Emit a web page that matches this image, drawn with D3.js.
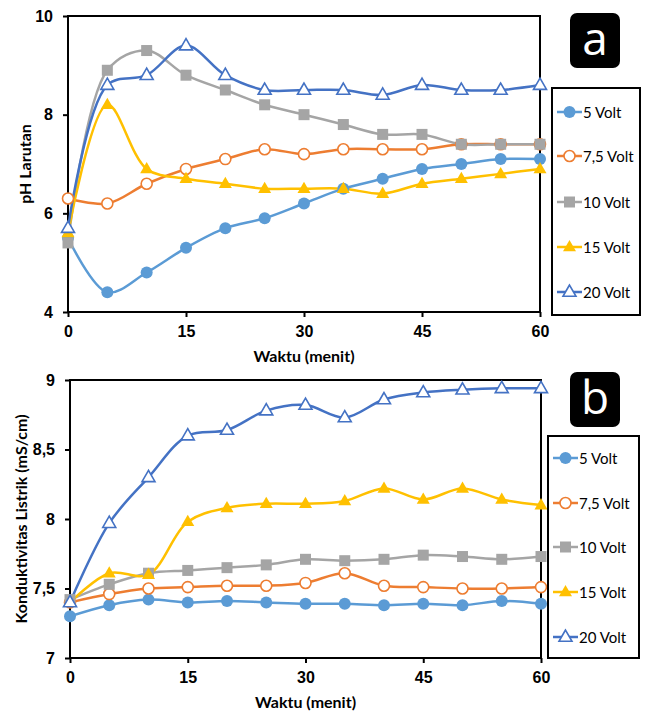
<!DOCTYPE html>
<html>
<head>
<meta charset="utf-8">
<script src="https://cdn.jsdelivr.net/npm/d3@7"></script>
<style>
  body { margin: 0; background: #fff; }
  svg { font-family: Lato, "Open Sans", sans-serif; }
</style>
</head>
<body>
<div id="container"></div>
<script>
const waktu = [0, 5, 10, 15, 20, 25, 30, 35, 40, 45, 50, 55, 60];
const seriesNames = ["5 Volt", "7,5 Volt", "10 Volt", "15 Volt", "20 Volt"];

// pH larutan (a)
const ph5 = [5.5, 4.4, 4.8, 5.3, 5.7, 5.9, 6.2, 6.5, 6.7, 6.9, 7.0, 7.1, 7.1];
const ph75 = [6.3, 6.2, 6.6, 6.9, 7.1, 7.3, 7.2, 7.3, 7.3, 7.3, 7.4, 7.4, 7.4];
const ph10 = [5.4, 8.9, 9.3, 8.8, 8.5, 8.2, 8.0, 7.8, 7.6, 7.6, 7.4, 7.4, 7.4];
const ph15 = [5.6, 8.2, 6.9, 6.7, 6.6, 6.5, 6.5, 6.5, 6.4, 6.6, 6.7, 6.8, 6.9];
const ph20 = [5.7, 8.6, 8.8, 9.4, 8.8, 8.5, 8.5, 8.5, 8.4, 8.6, 8.5, 8.5, 8.6];

// konduktivitas listrik (b)
const ec5 = [7.3, 7.38, 7.42, 7.4, 7.41, 7.4, 7.39, 7.39, 7.38, 7.39, 7.38, 7.41, 7.39];
const ec75 = [7.4, 7.46, 7.5, 7.51, 7.52, 7.52, 7.54, 7.61, 7.52, 7.51, 7.5, 7.5, 7.51];
const ec10 = [7.42, 7.53, 7.61, 7.63, 7.65, 7.67, 7.71, 7.7, 7.71, 7.74, 7.73, 7.71, 7.73];
const ec15 = [7.4, 7.61, 7.6, 7.98, 8.08, 8.11, 8.11, 8.13, 8.22, 8.14, 8.22, 8.14, 8.1];
const ec20 = [7.4, 7.97, 8.3, 8.6, 8.64, 8.78, 8.82, 8.73, 8.86, 8.91, 8.93, 8.94, 8.94];

const xTicks = [0, 15, 30, 45, 60];
const phTicks = [4, 6, 8, 10];
const ecTicks = [7, 7.5, 8, 8.5, 9];

const colors = ["#5B9BD5", "#ED7D31", "#A5A5A5", "#FFC000", "#4472C4"];
const markers = ["circle", "ocircle", "square", "triangle", "otriangle"];

const W = 649, H = 713;
const svg = d3.select("#container").append("svg")
    .attr("width", W).attr("height", H);

const comma = d => String(d).replace(".", ",");

function drawMarker(g, type, color, cx, cy) {
    if (type == "circle") {
        g.append("circle").attr("cx", cx).attr("cy", cy).attr("r", 6).attr("fill", color);
    } else if (type == "ocircle") {
        g.append("circle").attr("cx", cx).attr("cy", cy).attr("r", 5.5)
            .attr("fill", "#fff").attr("stroke", color).attr("stroke-width", 1.6);
    } else if (type == "square") {
        g.append("rect").attr("x", cx - 5.5).attr("y", cy - 5.5)
            .attr("width", 11).attr("height", 11).attr("fill", color);
    } else {
        const s = 13, h = s * 0.866;
        const pts = [[cx, cy - h * 0.62], [cx - s / 2, cy + h * 0.38], [cx + s / 2, cy + h * 0.38]];
        const tri = g.append("polygon").attr("points", pts.map(p => p.join(",")).join(" "));
        if (type == "triangle") tri.attr("fill", color);
        else tri.attr("fill", "#fff").attr("stroke", color).attr("stroke-width", 1.6);
    }
}

function makePanel(opt) {
    const x = d3.scaleLinear().domain([0, 60]).range([opt.left, opt.right]);
    const y = d3.scaleLinear().domain(opt.domain).range([opt.bottom, opt.top]);
    const g = svg.append("g");

    g.append("g")
        .attr("transform", "translate(0," + opt.bottom + ")")
        .call(d3.axisBottom(x).tickValues(xTicks).tickSize(5).tickPadding(9))
        .call(a => a.select(".domain").remove())
        .call(a => a.selectAll("line").attr("stroke", "#000").attr("stroke-width", 2))
        .call(a => a.selectAll("text").attr("font-size", 16).attr("font-weight", "bold").attr("fill", "#000"));

    g.append("g")
        .attr("transform", "translate(" + opt.left + ",0)")
        .call(d3.axisLeft(y).tickValues(opt.ticks).tickFormat(comma).tickSize(5).tickPadding(10))
        .call(a => a.select(".domain").remove())
        .call(a => a.selectAll("line").attr("stroke", "#000").attr("stroke-width", 2))
        .call(a => a.selectAll("text").attr("font-size", 16).attr("font-weight", "bold").attr("fill", "#000"));

    g.append("rect")
        .attr("x", opt.left).attr("y", opt.top)
        .attr("width", opt.right - opt.left).attr("height", opt.bottom - opt.top)
        .attr("fill", "none").attr("stroke", "#000").attr("stroke-width", 2);

    const line = d3.line()
        .x((d, i) => x(waktu[i]))
        .y(d => y(d))
        .curve(d3.curveCatmullRom.alpha(0.5));

    opt.series.forEach((s, k) => {
        g.append("path").attr("d", line(s))
            .attr("fill", "none").attr("stroke", colors[k]).attr("stroke-width", 2.5);
    });
    opt.series.forEach((s, k) => {
        const mg = g.append("g");
        s.forEach((v, i) => drawMarker(mg, markers[k], colors[k], x(waktu[i]), y(v)));
    });

    g.append("text")
        .attr("x", (opt.left + opt.right) / 2).attr("y", opt.bottom + 50)
        .attr("text-anchor", "middle").attr("font-size", 16).attr("font-weight", "bold")
        .text("Waktu (menit)");

    const ym = (opt.top + opt.bottom) / 2;
    g.append("text")
        .attr("transform", "translate(" + opt.titleX + "," + ym + ") rotate(-90)")
        .attr("text-anchor", "middle").attr("font-size", 16).attr("font-weight", "bold")
        .text(opt.yTitle);

    // legend
    const lg = g.append("g");
    lg.append("rect")
        .attr("x", opt.legend[0]).attr("y", opt.legend[1])
        .attr("width", opt.legend[2]).attr("height", opt.legend[3])
        .attr("fill", "#fff").attr("stroke", "#000").attr("stroke-width", 2);
    seriesNames.forEach((n, k) => {
        const ly = opt.legendRows[k];
        const lx = opt.legend[0] + 5;
        lg.append("line").attr("x1", lx).attr("x2", lx + 25).attr("y1", ly).attr("y2", ly)
            .attr("stroke", colors[k]).attr("stroke-width", 2.5);
        drawMarker(lg, markers[k], colors[k], lx + 12.5, ly);
        lg.append("text").attr("x", lx + 26).attr("y", ly + 5.5)
            .attr("font-size", 15).attr("fill", "#000").text(n);
    });

    // panel letter
    g.append("rect")
        .attr("x", 570).attr("y", opt.badgeY).attr("width", 50).attr("height", 55)
        .attr("rx", 7).attr("fill", "#000");
    g.append("text")
        .attr("x", 595).attr("y", opt.badgeY + 42)
        .attr("text-anchor", "middle").attr("font-size", 46).attr("fill", "#fff")
        .attr("font-family", "'Open Sans', sans-serif")
        .text(opt.letter);
}

makePanel({
    left: 68, right: 540, top: 16, bottom: 312,
    domain: [4, 10], ticks: phTicks,
    series: [ph5, ph75, ph10, ph15, ph20],
    yTitle: "pH Larutan", titleX: 31,
    legend: [552, 88, 88, 227],
    legendRows: [112, 156, 202, 247, 292],
    badgeY: 13, letter: "a"
});

makePanel({
    left: 70, right: 541, top: 380, bottom: 658,
    domain: [7, 9], ticks: ecTicks,
    series: [ec5, ec75, ec10, ec15, ec20],
    yTitle: "Konduktivitas Listrik (mS/cm)", titleX: 27,
    legend: [548, 436, 91, 222],
    legendRows: [458, 503, 547, 592, 637],
    badgeY: 372, letter: "b"
});
</script>
</body>
</html>
